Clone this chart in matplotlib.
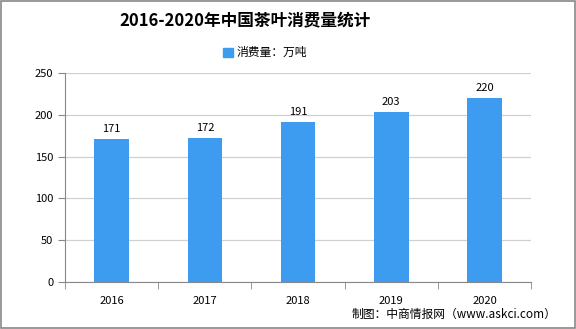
import matplotlib.pyplot as plt
import matplotlib.patches as mpatches

plt.rcParams['font.family'] = ['Noto Sans CJK SC', 'DejaVu Sans']

years = ['2016', '2017', '2018', '2019', '2020']
consumption = [171, 172, 191, 203, 220]
yticks = [0, 50, 100, 150, 200, 250]

bar_color = '#3d9cf0'

fig = plt.figure(figsize=(5.76, 3.29), dpi=100)
ax = fig.add_axes([0.113, 0.143, 0.809, 0.635])

x = range(len(years))
ax.bar(x, consumption, width=0.37, color=bar_color, zorder=3)
for xi, v in zip(x, consumption):
    ax.text(xi, v + 6, str(v), ha='center', va='bottom', fontsize=8, zorder=4)

ax.set_xlim(-0.5, len(years) - 0.5)
ax.set_ylim(0, 250)
ax.set_yticks(yticks)
ax.set_xticks(list(x))
ax.set_xticklabels(years)
ax.set_xticks([i - 0.5 for i in range(len(years) + 1)], minor=True)
ax.tick_params(axis='x', which='major', length=0, pad=10, labelsize=8)
ax.tick_params(axis='x', which='minor', length=5, color='#888888')
ax.tick_params(axis='y', length=5, color='#888888', labelsize=8)
ax.grid(axis='y', color='#d0d0d0', linewidth=0.9, zorder=0)
ax.set_axisbelow(True)
for s in ['top', 'right']:
    ax.spines[s].set_visible(False)
ax.spines['left'].set_color('#888888')
ax.spines['bottom'].set_color('#888888')

fig.text(0.425, 0.935, '2016-2020年中国茶叶消费量统计', ha='center', va='center',
         fontsize=12, fontweight='bold')

handle = mpatches.Patch(color=bar_color)
fig.legend([handle], ['消费量：万吨'], loc='center', bbox_to_anchor=(0.46, 0.84),
           frameon=False, fontsize=8.5, handlelength=0.8, handleheight=0.8, handletextpad=0.3)

fig.text(0.61, 0.045, '制图：中商情报网（www.askci.com）', fontsize=8.5, va='center')

border = mpatches.Rectangle((0.002, 0.003), 0.996, 0.994, transform=fig.transFigure,
                            fill=False, edgecolor='#888888', linewidth=1.2)
fig.patches.append(border)

fig.savefig('out.png', dpi=100)
